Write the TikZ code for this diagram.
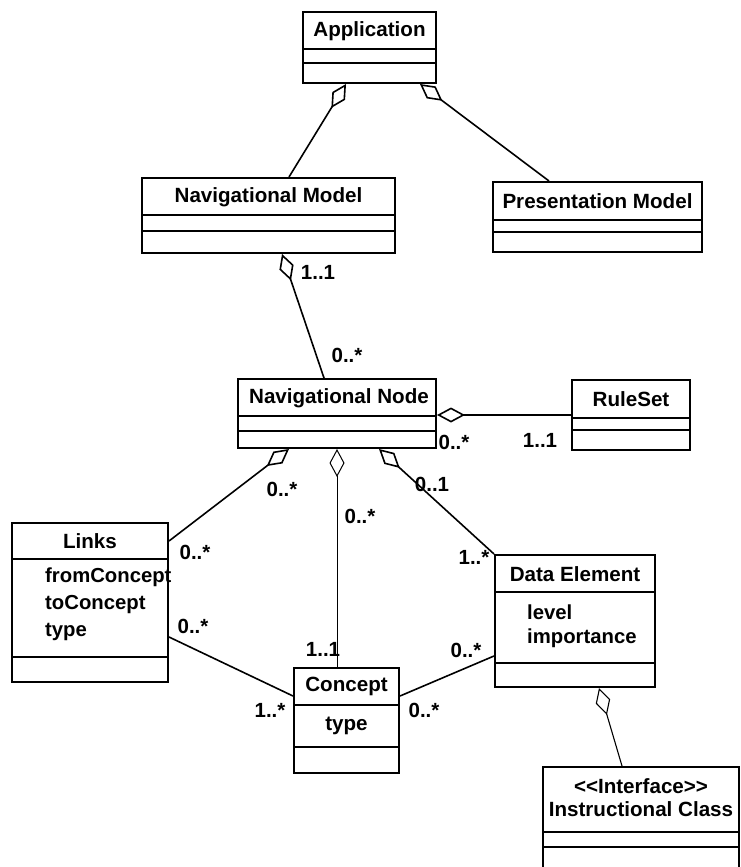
\documentclass[tikz,border=0pt]{standalone}
\usepackage{fontspec}
\setmainfont{Liberation Sans}
\usetikzlibrary{arrows.meta,fit}

\tikzset{
  classbox/.style={draw, line width=2pt, inner sep=0pt},
  divider/.style={line width=2pt},
  nametext/.style={font=\fontsize{20.6}{22}\selectfont\bfseries, inner sep=0pt},
  attrtext/.style={font=\fontsize{20.3}{22}\selectfont\bfseries, inner sep=0pt, anchor=west},
  mult/.style={font=\fontsize{20.5}{22}\selectfont\bfseries, inner sep=0pt},
  assoc/.style={line width=1.6pt},
  agg/.style={assoc, {Diamond[open,length=28pt,width=15pt]}-},
}

% class box: name, corner x1 y1, corner x2 y2, divider rows
\newcommand\umlclass[7]{%
  \node[classbox, fit={(#2,#3) (#4,#5)}] (#1) {};
  \draw[divider] (#1.west |- 0,#6) -- (#1.east |- 0,#6);
  \draw[divider] (#1.west |- 0,#7) -- (#1.east |- 0,#7);
}

\begin{document}
\begin{tikzpicture}[x=1pt,y=-1pt]
\useasboundingbox (0,0) rectangle (740,867);
\clip (0,0) rectangle (740,867);

% classes
\umlclass{app}{303}{12}{436}{83}{49}{63}
\umlclass{navmodel}{142}{178}{395}{253}{215}{231}
\umlclass{presmodel}{493}{182}{702}{252}{220}{232}
\umlclass{navnode}{238}{379}{436}{448}{416}{431}
\umlclass{ruleset}{572}{380}{690}{450}{418}{430}
\umlclass{links}{12}{523}{168}{682}{559}{657}
\umlclass{dataelem}{495}{555}{655}{687}{592}{663}
\umlclass{concept}{294}{668}{399}{773}{705}{747}
\umlclass{instr}{543}{767}{739}{885}{832}{847}

% class names
\node[nametext] (app-n) at (369.5,31) {Application};
\node[nametext] (navmodel-n) at (268.5,197) {Navigational Model};
\node[nametext] (presmodel-n) at (597.5,201) {Presentation Model};
\node[nametext] (navnode-n) at (339,398) {Navigational Node};
\node[nametext] (ruleset-n) at (631,399) {RuleSet};
\node[nametext] (links-n) at (90,541) {Links};
\node[nametext] (dataelem-n) at (575,574) {Data Element};
\node[nametext] (concept-n) at (346.5,686) {Concept};
\node[nametext] (instr-s) at (641,786) {<\kern0pt<Interface>\kern0pt>};
\node[nametext] (instr-n) at (641,809) {Instructional Class};

% attributes
\node[attrtext] (links-a1) at (45,577) {fromConcept};
\node[attrtext] (links-a2) at (45,605) {toConcept};
\node[attrtext] (links-a3) at (45,632) {type};
\node[attrtext] (dataelem-a1) at (527,612) {level};
\node[attrtext] (dataelem-a2) at (527,638) {importance};
\node[nametext] (concept-a1) at (346.5,726) {type};

% aggregations and associations
\draw[agg] ([xshift=44]app.south west) -- ([xshift=148]navmodel.north west);
\draw[agg] ([xshift=118]app.south west) -- ([xshift=57]presmodel.north west);
\draw[agg] ([xshift=141]navmodel.south west) -- ([xshift=87]navnode.north west);
\draw[agg] ([yshift=-37]navnode.north east) -- ([yshift=-36]ruleset.north west);
\draw[agg] ([xshift=52]navnode.south west) -- ([yshift=-19]links.north east);
\draw[agg, line width=1pt] ([xshift=100]navnode.south west) -- ([xshift=44]concept.north west);
\draw[agg] ([xshift=142]navnode.south west) -- (dataelem.north west);
\draw[assoc] ([yshift=-115]links.north east) -- ([yshift=-29]concept.north west);
\draw[assoc] ([yshift=-29]concept.north east) -- ([yshift=-102]dataelem.north west);
\draw[agg, line width=1.1pt] ([xshift=105]dataelem.south west) -- ([xshift=80]instr.north west);

% multiplicities
\node[mult] (m-nm) at (318,272) {1..1};
\node[mult] (m-nn) at (347,355) {0..*};
\node[mult] (m-nr) at (454,442) {0..*};
\node[mult] (m-rs) at (540,440) {1..1};
\node[mult] (m-nl) at (282,489) {0..*};
\node[mult] (m-nc) at (360,516) {0..*};
\node[mult] (m-nd) at (432,484) {0..1};
\node[mult] (m-ln) at (195,552) {0..*};
\node[mult] (m-lc) at (193,626) {0..*};
\node[mult] (m-cn) at (323,649) {1..1};
\node[mult] (m-cl) at (270,710) {1..*};
\node[mult] (m-cd) at (424,710) {0..*};
\node[mult] (m-dc) at (466,650) {0..*};
\node[mult] (m-dn) at (474,557) {1..*};
\end{tikzpicture}
\end{document}
